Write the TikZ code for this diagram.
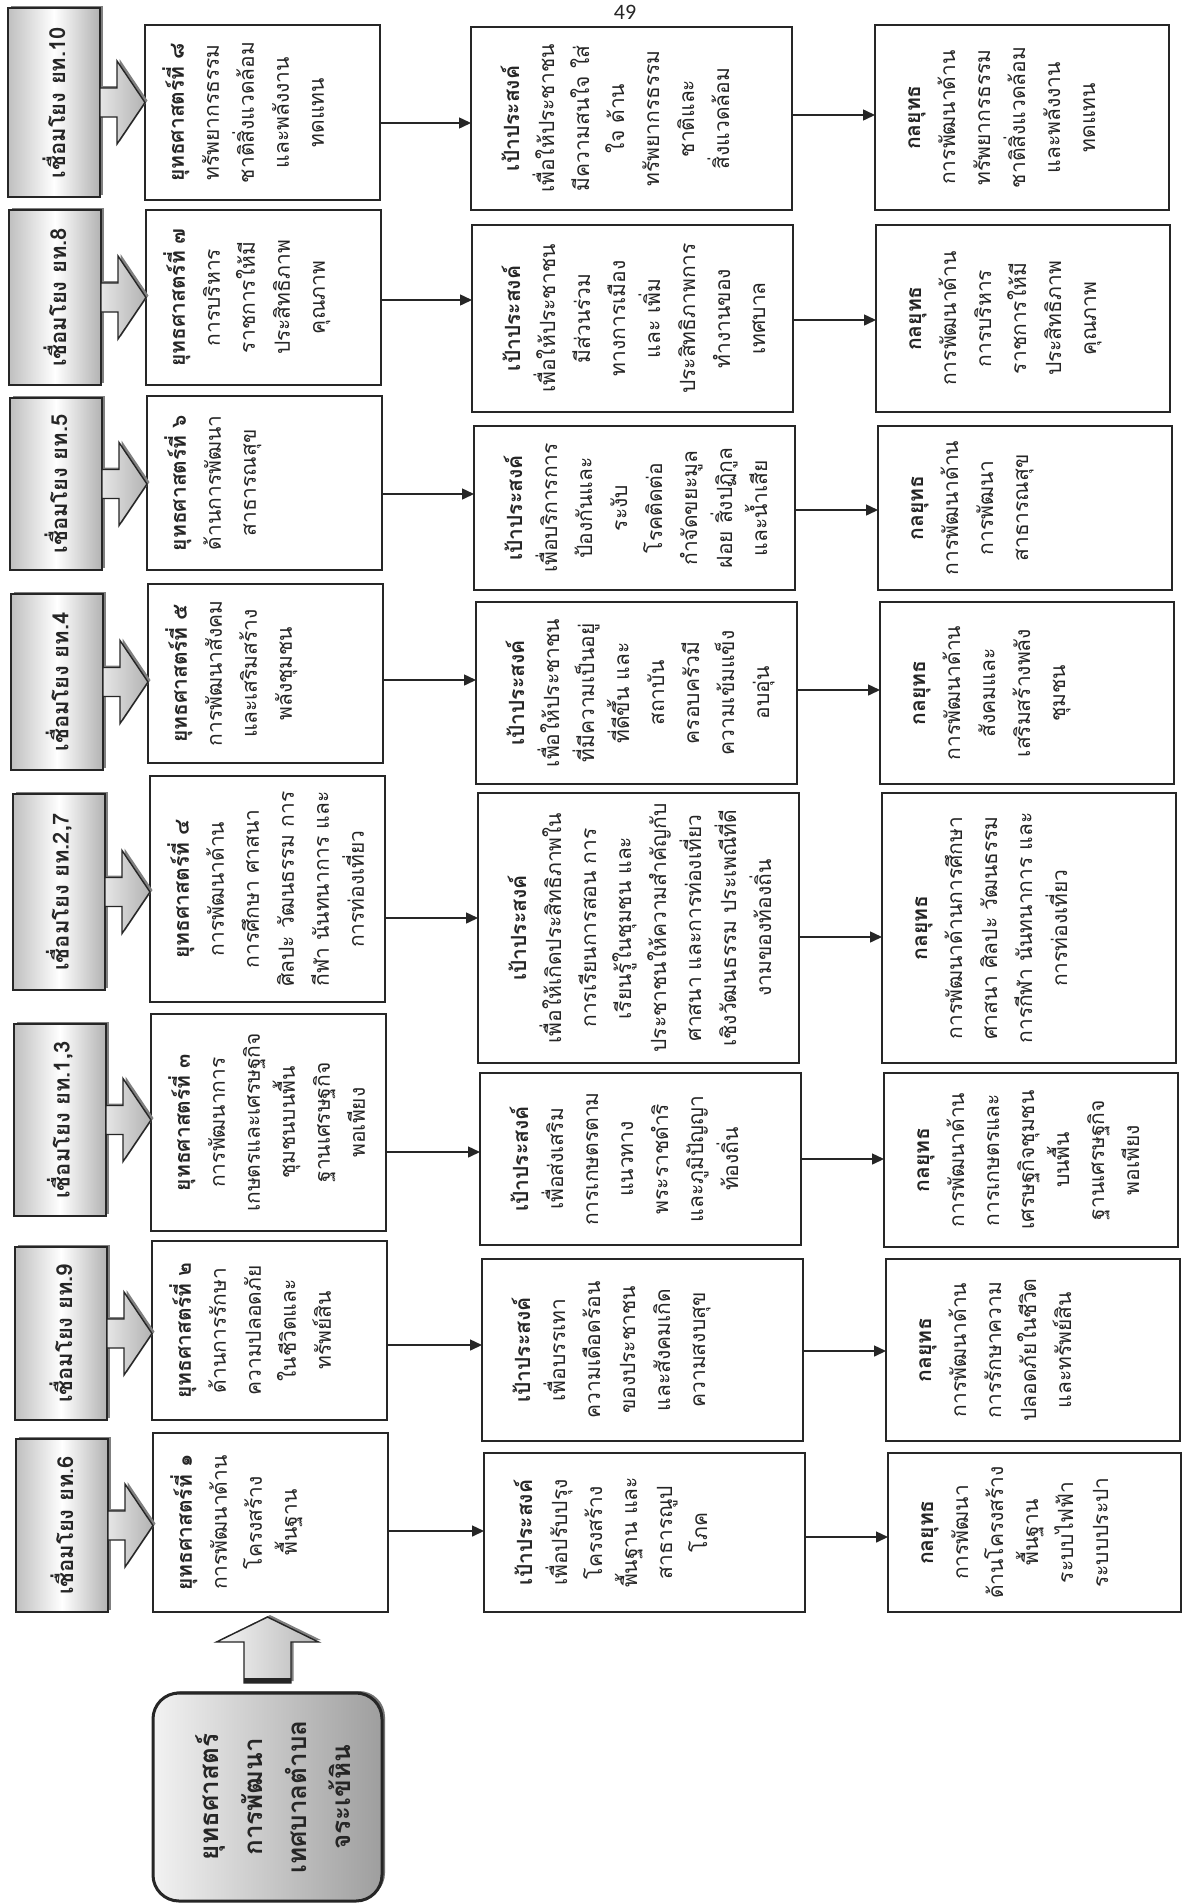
\documentclass[tikz,border=0pt]{standalone}
\usepackage{fontspec}
\newfontfamily\thai[Script=Thai]{Loma}
\newfontfamily\pgnum{Carlito}
\usetikzlibrary{arrows.meta,calc,fit,shadows}
\definecolor{ink}{HTML}{262626}
\newcommand\headL[1]{\rule{0pt}{20pt}\textbf{#1}\hfill}
\newcommand\headC[1]{\rule{0pt}{20pt}\textbf{#1}}
\tikzset{
  box/.style={draw=ink, line width=1.8pt, fill=white, inner sep=0pt, outer sep=0pt},
  linkbox/.style={draw=ink, line width=1.8pt, inner sep=0pt, outer sep=0pt,
     left color=black!25, right color=black!30, middle color=white,
     general shadow={shadow xshift=3pt, shadow yshift=2pt, fill=black!50}},
  barrow/.style={draw=ink, line width=1.4pt, line join=miter,
     left color=black!10, right color=black!30,
     general shadow={shadow xshift=2.5pt, shadow yshift=2pt, fill=black!50}},
  titlebox/.style={draw=ink, line width=3pt, rounded corners=26pt, inner sep=0pt, outer sep=0pt,
     left color=black!5, right color=black!38,
     general shadow={shadow xshift=3pt, shadow yshift=2pt, fill=black!55}},
  txt/.style={rotate=90, anchor=north, align=center, inner sep=0pt, text=ink,
     font={\thai\fontsize{21}{35}\selectfont\lineskiplimit=-60pt\lineskip=0pt}},
  ltxt/.style={rotate=90, anchor=center, inner sep=0pt, text=ink,
     font={\thai\bfseries\fontsize{22}{26}\selectfont}},
  ttxt/.style={rotate=90, anchor=center, align=center, inner sep=0pt, text=ink,
     font={\thai\bfseries\fontsize{26}{44}\selectfont\lineskiplimit=-60pt\lineskip=0pt}},
  conn/.style={draw=ink, line width=1.5pt, -{Triangle[length=12pt,width=11pt]}},
}
\begin{document}
\begin{tikzpicture}[x=1pt,y=-1pt]
\fill[white] (0,0) rectangle (1184,1904);
\useasboundingbox (0,0) rectangle (1184,1904);

\node[font={\pgnum\fontsize{22}{26}\selectfont}, text=ink, inner sep=0pt] (pg) at (625,12) {49};

% ---------- row 1
\node[linkbox, fit={(8,8) (100,197)}] (l1) {};
\node[ltxt] (l1t) at (l1.center) {เชื่อมโยง ยท.10};
\node[box, fit={(145,25) (380,200)}] (s1) {};
\node[txt] (s1t) at ($(s1.west)+(17,0)$) {\headL{ยุทธศาสตร์ที่ ๘}\\ทรัพยากรธรรม\\ชาติสิ่งแวดล้อม\\และพลังงาน\\ทดแทน};
\node[box, fit={(471,27) (792,210)}] (p1) {};
\node[txt] (p1t) at ($(p1.west)+(28,0)$) {\headL{เป้าประสงค์}\\เพื่อให้ประชาชน\\มีความสนใจ ใส่\\ใจ ด้าน\\ทรัพยากรธรรม\\ชาติและ\\สิ่งแวดล้อม};
\node[box, fit={(875,25) (1169,210)}] (t1) {};
\node[txt] (t1t) at ($(t1.west)+(25,0)$) {\headL{กลยุทธ}\\การพัฒนาด้าน\\ทรัพยากรธรรม\\ชาติสิ่งแวดล้อม\\และพลังงาน\\ทดแทน};
\coordinate (c1a) at (0,123); \coordinate (c1b) at (0,115);

% ---------- row 2
\node[linkbox, fit={(9,210) (101,385)}] (l2) {};
\node[ltxt] (l2t) at (l2.center) {เชื่อมโยง ยท.8};
\node[box, fit={(146,210) (381,385)}] (s2) {};
\node[txt] (s2t) at ($(s2.west)+(17,0)$) {\headL{ยุทธศาสตร์ที่ ๗}\\การบริหาร\\ราชการให้มี\\ประสิทธิภาพ\\คุณภาพ};
\node[box, fit={(472,225) (793,412)}] (p2) {};
\node[txt] (p2t) at ($(p2.west)+(28,0)$) {\headL{เป้าประสงค์}\\เพื่อให้ประชาชน\\มีส่วนร่วม\\ทางการเมือง\\และ เพิ่ม\\ประสิทธิภาพการ\\ทำงานของ\\เทศบาล};
\node[box, fit={(876,225) (1170,412)}] (t2) {};
\node[txt] (t2t) at ($(t2.west)+(25,0)$) {\headL{กลยุทธ}\\การพัฒนาด้าน\\การบริหาร\\ราชการให้มี\\ประสิทธิภาพ\\คุณภาพ};
\coordinate (c2a) at (0,300); \coordinate (c2b) at (0,320);

% ---------- row 3
\node[linkbox, fit={(10,398) (102,570)}] (l3) {};
\node[ltxt] (l3t) at (l3.center) {เชื่อมโยง ยท.5};
\node[box, fit={(147,396) (382,570)}] (s3) {};
\node[txt] (s3t) at ($(s3.west)+(17,0)$) {\headL{ยุทธศาสตร์ที่ ๖}\\ด้านการพัฒนา\\สาธารณสุข};
\node[box, fit={(474,426) (795,590)}] (p3) {};
\node[txt] (p3t) at ($(p3.west)+(28,0)$) {\headL{เป้าประสงค์}\\เพื่อบริการการ\\ป้องกันและ\\ระงับ\\โรคติดต่อ\\กำจัดขยะมูล\\ฝอย สิ่งปฏิกูล\\และน้ำเสีย};
\node[box, fit={(878,426) (1172,590)}] (t3) {};
\node[txt] (t3t) at ($(t3.west)+(25,0)$) {\headL{กลยุทธ}\\การพัฒนาด้าน\\การพัฒนา\\สาธารณสุข};
\coordinate (c3a) at (0,494); \coordinate (c3b) at (0,510);

% ---------- row 4
\node[linkbox, fit={(11,594) (103,770)}] (l4) {};
\node[ltxt] (l4t) at (l4.center) {เชื่อมโยง ยท.4};
\node[box, fit={(148,584) (383,763)}] (s4) {};
\node[txt] (s4t) at ($(s4.west)+(17,0)$) {\headL{ยุทธศาสตร์ที่ ๕}\\การพัฒนาสังคม\\และเสริมสร้าง\\พลังชุมชน};
\node[box, fit={(476,602) (797,784)}] (p4) {};
\node[txt] (p4t) at ($(p4.west)+(28,0)$) {\headL{เป้าประสงค์}\\เพื่อให้ประชาชน\\ที่มีความเป็นอยู่\\ที่ดีขึ้น และ\\สถาบัน\\ครอบครัวมี\\ความเข้มแข็ง\\อบอุ่น};
\node[box, fit={(880,602) (1174,784)}] (t4) {};
\node[txt] (t4t) at ($(t4.west)+(25,0)$) {\headL{กลยุทธ}\\การพัฒนาด้าน\\สังคมและ\\เสริมสร้างพลัง\\ชุมชน};
\coordinate (c4a) at (0,680); \coordinate (c4b) at (0,690);

% ---------- row 5
\node[linkbox, fit={(13,794) (105,990)}] (l5) {};
\node[ltxt] (l5t) at (l5.center) {เชื่อมโยง ยท.2,7};
\node[box, fit={(150,776) (385,1002)}] (s5) {};
\node[txt] (s5t) at ($(s5.west)+(17,0)$) {\headC{ยุทธศาสตร์ที่ ๔}\\การพัฒนาด้าน\\การศึกษา ศาสนา\\ศิลปะ วัฒนธรรม การ\\กีฬา นันทนาการ และ\\การท่องเที่ยว};
\node[box, fit={(478,793) (799,1063)}] (p5) {};
\node[txt] (p5t) at ($(p5.west)+(28,0)$) {\headC{เป้าประสงค์}\\เพื่อให้เกิดประสิทธิภาพใน\\การเรียนการสอน การ\\เรียนรู้ในชุมชน และ\\ประชาชนให้ความสำคัญกับ\\ศาสนา และการท่องเที่ยว\\เชิงวัฒนธรรม ประเพณีที่ดี\\งามของท้องถิ่น};
\node[box, fit={(882,793) (1176,1063)}] (t5) {};
\node[txt] (t5t) at ($(t5.west)+(25,0)$) {\headC{กลยุทธ}\\การพัฒนาด้านการศึกษา\\ศาสนา ศิลปะ วัฒนธรรม\\การกีฬา นันทนาการ และ\\การท่องเที่ยว};
\coordinate (c5a) at (0,918); \coordinate (c5b) at (0,937);

% ---------- row 6
\node[linkbox, fit={(14,1024) (106,1216)}] (l6) {};
\node[ltxt] (l6t) at (l6.center) {เชื่อมโยง ยท.1,3};
\node[box, fit={(151,1014) (386,1231)}] (s6) {};
\node[txt] (s6t) at ($(s6.west)+(17,0)$) {\headL{ยุทธศาสตร์ที่ ๓}\\การพัฒนาการ\\เกษตรและเศรษฐกิจ\\ชุมชนบนพื้น\\ฐานเศรษฐกิจ\\พอเพียง};
\node[box, fit={(480,1073) (801,1245)}] (p6) {};
\node[txt] (p6t) at ($(p6.west)+(28,0)$) {\headL{เป้าประสงค์}\\เพื่อส่งเสริม\\การเกษตรตาม\\แนวทาง\\พระราชดำริ\\และภูมิปัญญา\\ท้องถิ่น};
\node[box, fit={(884,1073) (1178,1247)}] (t6) {};
\node[txt] (t6t) at ($(t6.west)+(25,0)$) {\headL{กลยุทธ}\\การพัฒนาด้าน\\การเกษตรและ\\เศรษฐกิจชุมชน\\บนพื้น\\ฐานเศรษฐกิจ\\พอเพียง};
\coordinate (c6a) at (0,1152); \coordinate (c6b) at (0,1159);

% ---------- row 7
\node[linkbox, fit={(15,1247) (107,1420)}] (l7) {};
\node[ltxt] (l7t) at (l7.center) {เชื่อมโยง ยท.9};
\node[box, fit={(152,1241) (387,1420)}] (s7) {};
\node[txt] (s7t) at ($(s7.west)+(17,0)$) {\headL{ยุทธศาสตร์ที่ ๒}\\ด้านการรักษา\\ความปลอดภัย\\ในชีวิตและ\\ทรัพย์สิน};
\node[box, fit={(482,1259) (803,1441)}] (p7) {};
\node[txt] (p7t) at ($(p7.west)+(28,0)$) {\headL{เป้าประสงค์}\\เพื่อบรรเทา\\ความเดือดร้อน\\ของประชาชน\\และสังคมเกิด\\ความสงบสุข};
\node[box, fit={(886,1259) (1180,1441)}] (t7) {};
\node[txt] (t7t) at ($(t7.west)+(25,0)$) {\headL{กลยุทธ}\\การพัฒนาด้าน\\การรักษาความ\\ปลอดภัยในชีวิต\\และทรัพย์สิน};
\coordinate (c7a) at (0,1345); \coordinate (c7b) at (0,1351);

% ---------- row 8
\node[linkbox, fit={(16,1439) (108,1612)}] (l8) {};
\node[ltxt] (l8t) at (l8.center) {เชื่อมโยง ยท.6};
\node[box, fit={(153,1433) (388,1612)}] (s8) {};
\node[txt] (s8t) at ($(s8.west)+(17,0)$) {\headL{ยุทธศาสตร์ที่ ๑}\\การพัฒนาด้าน\\โครงสร้าง\\พื้นฐาน};
\node[box, fit={(484,1453) (805,1612)}] (p8) {};
\node[txt] (p8t) at ($(p8.west)+(28,0)$) {\headL{เป้าประสงค์}\\เพื่อปรับปรุง\\โครงสร้าง\\พื้นฐาน และ\\สาธารณูป\\โภค};
\node[box, fit={(888,1453) (1181,1612)}] (t8) {};
\node[txt] (t8t) at ($(t8.west)+(25,0)$) {\headL{กลยุทธ}\\การพัฒนา\\ด้านโครงสร้าง\\พื้นฐาน\\ระบบไฟฟ้า\\ระบบประปา};
\coordinate (c8a) at (0,1531); \coordinate (c8b) at (0,1537);

% ---------- block arrows and connectors
\foreach \i in {1,...,8}{
  \path[barrow] let \p1=(l\i.east), \p2=(s\i.west) in
    (\x1,\y1+14.5pt) -- (\x2-28pt,\y1+14.5pt) -- (\x2-28pt,\y1+41.5pt) -- (\x2,\y1)
    -- (\x2-28pt,\y1-41.5pt) -- (\x2-28pt,\y1-14.5pt) -- (\x1,\y1-14.5pt) -- cycle;
  \draw[conn] (s\i.east |- c\i a) -- (p\i.west |- c\i a);
  \draw[conn] (p\i.east |- c\i b) -- (t\i.west |- c\i b);
}

% ---------- title box and up arrow
\node[titlebox, fit={(153,1693) (382,1901)}] (title) {};
\node[ttxt] (titlet) at ($(title.center)+(6,0)$) {ยุทธศาสตร์\\การพัฒนา\\เทศบาลตำบล\\จระเข้หิน};
\path[barrow, left color=black!4, right color=black!28] let \p1=(s8.south), \p2=(title.north) in
  (\x2-23.5pt,\y2+10pt) -- (\x2-23.5pt,\y1-30pt) -- (\x2-51pt,\y1-30pt) -- (\x2,\y1-5pt)
  -- (\x2+51pt,\y1-30pt) -- (\x2+23.5pt,\y1-30pt) -- (\x2+23.5pt,\y2+10pt) -- cycle;
\draw[ink, line width=5pt] let \p2=(title.north) in
  (\x2-23.5pt,\y2+12.5pt) -- (\x2+23.5pt,\y2+12.5pt);
\end{tikzpicture}
\end{document}
